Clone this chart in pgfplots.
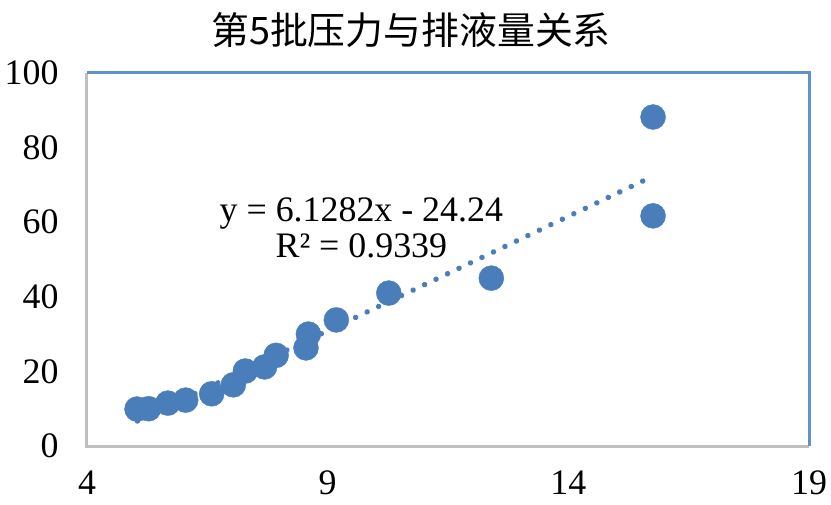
\documentclass[border=0pt]{standalone}
\usepackage{fontspec}
\setmainfont{Liberation Serif}
\newfontfamily\cjk{Noto Sans CJK SC}
\usepackage{pgfplots}
\pgfplotsset{compat=1.18}
\definecolor{ptblue}{HTML}{4A7EBB}
\definecolor{frameblue}{HTML}{5E92CC}
\definecolor{axgrey}{HTML}{BFBFBF}
\begin{document}
\begin{tikzpicture}
\useasboundingbox (-87bp,-59bp) rectangle (744bp,446bp);
\begin{axis}[
  at={(0,0)}, anchor=south west,
  scale only axis, width=722bp, height=373bp,
  xmin=4, xmax=19, ymin=0, ymax=100,
  xtick={4,9,14,19}, ytick={0,20,40,60,80,100},
  major tick length=0pt,
  axis line style={draw=none},
  /pgf/number format/assume math mode=true,
  ticklabel style={font=\fontsize{36}{36}\selectfont, text=black},
  xticklabel style={yshift=-21bp},
  yticklabel style={xshift=-25bp},
  clip=false,
]
\draw[axgrey, line width=3bp] (rel axis cs:0,1) -- (rel axis cs:0,0) -- (rel axis cs:1,0);
\draw[frameblue, line width=3bp] (rel axis cs:0,1) -- (rel axis cs:1,1) -- (rel axis cs:1,0);
\addplot[only marks, mark=*, mark size=12.5bp, mark options={fill=ptblue, draw=ptblue}] coordinates {
(5.04,9.9) (5.28,10.0) (5.68,11.5) (6.05,12.3) (6.59,14.0) (7.04,16.4)
(7.29,20.1) (7.69,21.2) (7.93,24.3) (8.55,26.3) (8.60,30.0) (9.18,33.8)
(10.27,41.0) (12.40,45.0) (15.76,88.2) (15.76,61.7)
};
\addplot[ptblue, line width=5.5bp, line cap=round, dash pattern=on 0.01bp off 12.7bp] coordinates {
(5.05,6.71) (15.76,72.34)
};
\node[font=\fontsize{36}{36}\selectfont, align=center, text=black] at (axis cs:9.7,58.5) {y = 6.1282x - 24.24\\R² = 0.9339};
\node[font=\cjk\fontsize{38}{38}\selectfont, text=black] at (axis cs:10.73,111.5) {第5批压力与排液量关系};
\end{axis}
\end{tikzpicture}
\end{document}
